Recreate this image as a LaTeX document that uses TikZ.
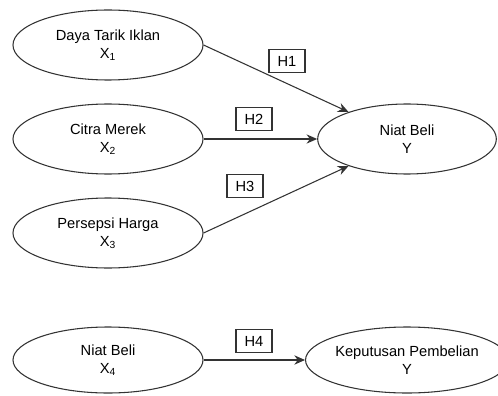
\documentclass[tikz,border=0pt]{standalone}
\usepackage{fontspec}
\setmainfont{Liberation Sans}
\usetikzlibrary{shapes.geometric,arrows.meta}

\begin{document}
\begin{tikzpicture}[x=0.75pt, y=-0.75pt, line width=0.8pt, draw=black!80,
    var/.style={draw, ellipse, minimum width=142.5pt, minimum height=52.5pt, inner sep=0pt, align=center, font=\fontsize{11}{13.5}\selectfont},
    hyp/.style={draw, rectangle, minimum width=27pt, minimum height=17pt, inner sep=2pt, font=\fontsize{11}{12}\selectfont},
    >={Stealth[length=8pt,width=7pt]}]

    \useasboundingbox (0,0) rectangle (498,395);

    % Nodes
    \node [var] (X1) at (108,45) {Daya Tarik Iklan\\X\textsubscript{1}};
    \node [var] (X2) at (108,139) {Citra Merek\\X\textsubscript{2}};
    \node [var] (X3) at (108,233) {Persepsi Harga\\X\textsubscript{3}};
    \node [var, minimum width=134pt] (Y) at (407,139) {Niat Beli\\Y};
    \node [var, minimum height=49.5pt] (X4) at (108,360) {Niat Beli\\X\textsubscript{4}};
    \node [var, minimum width=134pt, minimum height=49.5pt] (Z) at (407,360) {Keputusan Pembelian\\Y};

    % Hypotheses
    \node [hyp] (H1) at (287,61) {H1};
    \node [hyp] (H2) at (254,119) {H2};
    \node [hyp] (H3) at (245,186) {H3};
    \node [hyp] (H4) at (254,341) {H4};

    % Arrows
    \draw[->] (X1.east) -- (Y);
    \draw[->] (X2) -- (Y);
    \draw[->] (X3.east) -- (Y);
    \draw[->] (X4) -- (Z);

\end{tikzpicture}
\end{document}
